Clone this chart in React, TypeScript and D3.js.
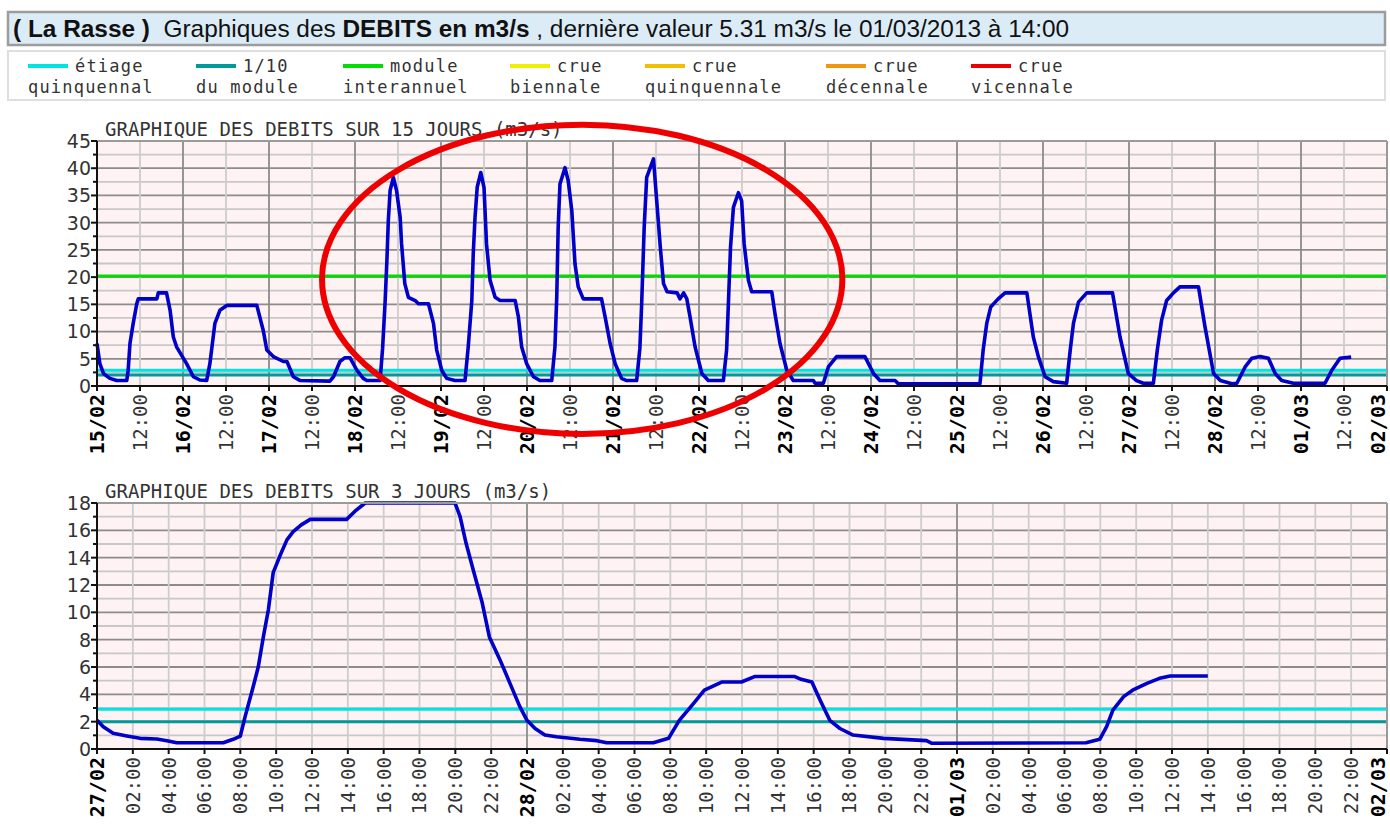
import { useEffect, useRef } from "react";
import * as d3 from "d3";

// 15 jours : heures depuis le 15/02/2013 00:00, débit m3/s
const hours15 = [
  0, 0.8, 1.8, 3.6, 5.5, 8.3, 8.7, 9.2, 10.1, 11.1, 11.5, 16.7, 17.1, 19.4, 20.4, 21.3, 22.2, 25, 26.9, 28.7,
  30.6, 31.5, 32.9, 34.3, 36.2, 44.6, 46.4, 47.4, 49.2, 52, 53, 54.8, 56.7, 65, 66, 67.8, 69.2, 70.6, 72.5, 74.3,
  75.3, 79, 79.7, 80.4, 80.9, 81.3, 81.8, 82.7, 83.6, 84.6, 85, 85.9, 86.9, 88.8, 89.7, 92.5, 93.9, 94.8, 96.2, 97.6,
  99.9, 102.7, 103.6, 104.6, 105, 105.5, 106.1, 107.1, 108, 108.7, 109.7, 111.1, 112.5, 116.7, 117.6, 118.5, 119.9, 121.8, 123.6, 126.9,
  127.8, 128.3, 128.7, 129.2, 130.6, 131.5, 132.5, 133.4, 134.3, 135.7, 140.8, 141.8, 143.2, 144.6, 146.4, 147.8, 150.6, 151.5, 152, 152.7,
  153.4, 155.3, 156.2, 157.2, 158.1, 159.1, 161.9, 162.7, 163.7, 164.6, 165.5, 166.9, 168.8, 170.6, 174.8, 175.7, 176.2, 176.8, 177.6, 179,
  179.9, 180.6, 181.8, 182.7, 188.3, 189.2, 190.6, 192.5, 194.3, 199.9, 200.4, 202.7, 204.1, 206.4, 214.3, 216.7, 218.5, 222.7, 223.6, 246.4,
  247.3, 248.3, 249.4, 251.5, 253.4, 259.5, 261.3, 262.7, 264.6, 266.9, 270.6, 271.6, 272.5, 273.9, 276.2, 283.4, 285.5, 287.8, 290.1, 292,
  294.8, 295.9, 297.1, 298.5, 300.4, 302.2, 307.4, 309.2, 311.6, 313.5, 316.7, 318.1, 320.4, 322.3, 324.6, 326.9, 328.8, 330.6, 333.9, 342.7,
  344.6, 346.9, 350,
];
const flow15 = [
  7.8, 4.1, 2.3, 1.4, 1.0, 1.0, 2.9, 7.8, 11.5, 15.1, 16.0, 16.0, 17.1, 17.1, 13.9, 9.0, 7.2, 4.1, 1.7, 1.1,
  1.0, 4.1, 11.5, 13.9, 14.8, 14.8, 10.2, 6.6, 5.4, 4.5, 4.5, 1.7, 1.0, 0.9, 1.7, 4.5, 5.2, 5.2, 2.9, 1.4,
  1.0, 1.0, 6.9, 15.4, 23, 30.4, 35.9, 38.3, 35.9, 31, 26.1, 18.8, 16.3, 15.7, 15.1, 15.1, 11.5, 6.6, 2.9, 1.4,
  1.0, 1.0, 7.2, 15.7, 24.3, 31, 36.5, 39.2, 36.5, 26.1, 19.4, 16.3, 15.7, 15.7, 12.7, 7.2, 4.1, 1.7, 1.0, 1.0,
  7.2, 16.3, 29.1, 37.1, 40.1, 37.7, 32.2, 22.4, 18.2, 16, 16, 12.7, 7.8, 4.1, 1.4, 1.0, 1.0, 6.9, 15.1, 29.1,
  38.3, 41.7, 34, 25.5, 18.8, 17.3, 17.1, 16, 17.1, 16, 12.7, 7.2, 2.3, 1.0, 1.0, 6.6, 15.1, 25.5, 32.8, 35.5,
  34, 26.1, 19.4, 17.3, 17.3, 13.3, 7.8, 2.9, 1.0, 1.0, 0.5, 0.5, 3.5, 5.4, 5.4, 2.3, 1.0, 1.0, 0.4, 0.4,
  6.6, 11.5, 14.5, 16, 17.1, 17.1, 9.0, 5.4, 1.7, 0.8, 0.5, 6.6, 11.5, 15.4, 17.1, 17.1, 9.0, 2.3, 1.0, 0.5,
  0.5, 6.6, 12.1, 15.7, 17.1, 18.2, 18.2, 10.9, 2.3, 1.0, 0.4, 0.5, 3.5, 5.1, 5.4, 5.1, 2.3, 1.0, 0.5, 0.5,
  2.9, 5.1, 5.31,
];

// 3 jours : heures depuis le 27/02/2013 00:00
const hours3 = [
  0, 0.35, 0.9, 1.66, 2.4, 3.33, 3.9, 4.45, 7.05, 7.6, 8, 8.26, 8.72, 9.0, 9.28, 9.56, 9.84, 10.2, 10.6, 10.95,
  11.4, 11.9, 13.93, 14.4, 14.96, 19.98, 20.26, 20.6, 21, 21.5, 21.9, 22.5, 23.05, 23.6, 24, 24.45, 25, 25.65, 26.95, 27.9,
  28.45, 31.05, 31.9, 32.5, 33.3, 33.9, 34.86, 35.97, 36.7, 38.95, 39.3, 39.9, 40.35, 40.9, 41.46, 42.2, 43.9, 46.3, 46.6, 55.2,
  55.97, 56.35, 56.7, 57.3, 57.8, 58.6, 59.3, 59.9, 62,
];
const flow3 = [
  2.1, 1.63, 1.15, 0.95, 0.78, 0.73, 0.61, 0.46, 0.46, 0.71, 0.95, 2.37, 4.56, 6.0, 8.2, 10.2, 12.9, 14.1, 15.3, 15.9,
  16.4, 16.8, 16.8, 17.4, 18, 18, 17, 15.05, 13.1, 10.7, 8.2, 6.5, 4.8, 3.1, 2.1, 1.5, 1.02, 0.9, 0.71, 0.61,
  0.46, 0.46, 0.78, 2.1, 3.34, 4.3, 4.9, 4.9, 5.3, 5.3, 5.1, 4.9, 3.6, 2.1, 1.5, 1.02, 0.78, 0.61, 0.42, 0.46,
  0.71, 1.63, 2.85, 3.83, 4.3, 4.8, 5.17, 5.34, 5.34,
];

// seuils (m3/s)
const thresholdNames = ["etiage", "dixieme", "module"];
const thresholdValues = [2.9, 2.0, 20.2];

const legendTop = ["étiage", "1/10", "module", "crue", "crue", "crue", "crue"];
const legendBottom = ["quinquennal", "du module", "interannuel", "biennale", "quinquennale", "décennale", "vicennale"];

const COLORS = ["#00e4e4", "#009a9a", "#00dd00", "#f2ee00", "#f0c000", "#f0960f", "#ee0000"];
const MONO = "'DejaVu Sans Mono', monospace";

function panel(svg: any, o: any) {
  const L = 97, R = 1387;
  const end = d3.timeHour.offset(o.start, o.days * 24);
  const x = d3.scaleTime().domain([o.start, end]).range([L, R]);
  const y = d3.scaleLinear().domain([0, o.yMax]).range([o.bottom, o.top]);
  const g = svg.append("g");
  const isMajor = (d: number) => Math.abs(d / o.yMajor - Math.round(d / o.yMajor)) < 1e-6;

  g.append("rect").attr("x", L).attr("y", o.top).attr("width", R - L).attr("height", o.bottom - o.top).attr("fill", "#fff2f2");

  // grille horizontale
  const hVals = d3.range(o.yMinor, o.yMax + 1e-6, o.yMinor);
  g.selectAll(".hg").data(hVals).join("line")
    .attr("x1", L).attr("x2", R)
    .attr("y1", (d: number) => y(d)).attr("y2", (d: number) => y(d))
    .attr("stroke", (d: number) => (isMajor(d) ? "#8c8c8c" : "#c8c8c8"))
    .attr("stroke-width", 1.8);

  // grille verticale
  const ticks = d3.range(0, o.days * 24 + 1, o.tickHours).map((h: number) => d3.timeHour.offset(o.start, h));
  g.selectAll(".vg").data(ticks.slice(1, -1)).join("line")
    .attr("x1", (d: Date) => x(d)).attr("x2", (d: Date) => x(d))
    .attr("y1", o.top).attr("y2", o.bottom)
    .attr("stroke", (d: Date) => (d.getHours() === 0 ? "#8c8c8c" : "#cdcdcd"))
    .attr("stroke-width", 1.8);

  // seuils
  const thr = thresholdValues.map((v, i) => ({ v, c: COLORS[i], n: thresholdNames[i] })).filter((t) => t.v <= o.yMax);
  g.selectAll(".th").data(thr).join("line")
    .attr("x1", L).attr("x2", R)
    .attr("y1", (d: any) => y(d.v)).attr("y2", (d: any) => y(d.v))
    .attr("stroke", (d: any) => d.c).attr("stroke-width", 3);

  // débit
  const pts = o.hours.map((h: number, i: number) => [d3.timeMinute.offset(o.start, Math.round(h * 60)), o.flow[i]]);
  g.append("path").datum(pts)
    .attr("d", d3.line<any>().x((d) => x(d[0])).y((d) => y(d[1])))
    .attr("fill", "none").attr("stroke", "#0000c8").attr("stroke-width", 3.6).attr("stroke-linejoin", "round");

  // cadre
  g.append("line").attr("x1", L).attr("x2", R).attr("y1", o.top).attr("y2", o.top).attr("stroke", "#9a9a9a").attr("stroke-width", 2);
  g.append("line").attr("x1", R).attr("x2", R).attr("y1", o.top).attr("y2", o.bottom).attr("stroke", "#9a9a9a").attr("stroke-width", 2);
  g.append("line").attr("x1", L).attr("x2", R).attr("y1", o.bottom).attr("y2", o.bottom).attr("stroke", "#111").attr("stroke-width", 2);
  g.append("line").attr("x1", L).attr("x2", L).attr("y1", o.top).attr("y2", o.bottom + 5).attr("stroke", "#111").attr("stroke-width", 2);

  // graduations y
  const yt = d3.range(0, o.yMax + 1e-6, o.yTick);
  g.selectAll(".yt").data(yt).join("line")
    .attr("x1", (d: number) => (isMajor(d) ? L - 6 : L - 4)).attr("x2", L)
    .attr("y1", (d: number) => y(d)).attr("y2", (d: number) => y(d))
    .attr("stroke", "#111").attr("stroke-width", 2);
  g.selectAll(".yl").data(d3.range(0, o.yMax + 1e-6, o.yMajor)).join("text")
    .attr("x", L - 6).attr("y", (d: number) => y(d)).attr("dy", "0.36em")
    .attr("text-anchor", "end").attr("fill", "#333")
    .style("font-family", "'DejaVu Sans', sans-serif").style("font-size", "19px")
    .text((d: number) => d);

  // graduations x
  g.selectAll(".xt").data(ticks).join("line")
    .attr("x1", (d: Date) => x(d)).attr("x2", (d: Date) => x(d))
    .attr("y1", o.bottom).attr("y2", o.bottom + 5)
    .attr("stroke", "#111").attr("stroke-width", 2);
  const fDay = d3.timeFormat("%d/%m"), fHour = d3.timeFormat("%H:%M");
  g.selectAll(".xl").data(ticks).join("text")
    .attr("transform", (d: Date) => `translate(${Math.min(x(d), R - 9)},${o.bottom + 8}) rotate(-90)`)
    .attr("dy", "0.36em").attr("text-anchor", "end")
    .attr("fill", (d: Date) => (d.getHours() === 0 ? "#000" : "#333"))
    .style("font-family", MONO)
    .style("font-size", (d: Date) => (d.getHours() === 0 ? "20px" : "19px"))
    .style("font-weight", (d: Date) => (d.getHours() === 0 ? "bold" : "normal"))
    .text((d: Date) => (d.getHours() === 0 ? fDay(d) : fHour(d)));

  // titre
  g.append("text").attr("x", L + 8).attr("y", o.top - 5)
    .attr("fill", "#333").style("font-family", MONO).style("font-size", "19px")
    .text(o.title);

  return { x, y, g };
}

export default function App() {
  const ref = useRef<SVGSVGElement>(null);

  useEffect(() => {
    const el = ref.current;
    if (!el) return;
    const svg = d3.select(el);
    svg.selectAll("*").remove();

    // bandeau
    svg.append("rect").attr("x", 8).attr("y", 12).attr("width", 1377).attr("height", 33)
      .attr("fill", "#dcecf7").attr("stroke", "#9c9c9c").attr("stroke-width", 2.5);
    const head = svg.append("text").attr("x", 13).attr("y", 37)
      .style("font-family", "'Liberation Sans', Arial, sans-serif").style("font-size", "24.4px").attr("fill", "#111");
    head.append("tspan").style("font-weight", "bold").text("( La Rasse )");
    head.append("tspan").text("\u00a0 Graphiques des ");
    head.append("tspan").style("font-weight", "bold").text("DEBITS en m3/s");
    head.append("tspan").text(" , dernière valeur 5.31 m3/s le 01/03/2013 à 14:00");

    // légende
    svg.append("rect").attr("x", 8).attr("y", 51).attr("width", 1377).attr("height", 49)
      .attr("fill", "#fff").attr("stroke", "#dedede").attr("stroke-width", 2);
    const lefts = [28, 196, 343, 510, 645, 826, 971];
    legendTop.forEach((t, i) => {
      const x0 = lefts[i];
      svg.append("line").attr("x1", x0).attr("x2", x0 + 40).attr("y1", 66).attr("y2", 66)
        .attr("stroke", COLORS[i]).attr("stroke-width", 4);
      svg.append("text").attr("x", x0 + 47).attr("y", 72).attr("fill", "#333")
        .style("font-family", MONO).style("font-size", "17px").style("letter-spacing", "1.2px").text(t);
      svg.append("text").attr("x", x0).attr("y", 93).attr("fill", "#333")
        .style("font-family", MONO).style("font-size", "17px").style("letter-spacing", "1.2px").text(legendBottom[i]);
    });

    const top = panel(svg, {
      top: 141, bottom: 386, start: new Date(2013, 1, 15), days: 15, tickHours: 12,
      yMax: 45, yMajor: 5, yMinor: 2.5, yTick: 2.5, hours: hours15, flow: flow15,
      title: "GRAPHIQUE DES DEBITS SUR 15 JOURS (m3/s)",
    });
    panel(svg, {
      top: 503, bottom: 749, start: new Date(2013, 1, 27), days: 3, tickHours: 2,
      yMax: 18, yMajor: 2, yMinor: 1, yTick: 1, hours: hours3, flow: flow3,
      title: "GRAPHIQUE DES DEBITS SUR 3 JOURS (m3/s)",
    });

    // ellipse rouge autour des pointes
    const s0 = new Date(2013, 1, 15);
    const cx = top.x(d3.timeMinute.offset(s0, 135.4 * 60));
    const rx = top.x(d3.timeMinute.offset(s0, 208 * 60)) - cx;
    const cy = top.y(19.6);
    const ry = top.y(19.6) - top.y(48);
    svg.append("ellipse").attr("cx", cx).attr("cy", cy).attr("rx", rx).attr("ry", ry)
      .attr("fill", "none").attr("stroke", "#ee0000").attr("stroke-width", 6);
  }, []);

  return (
    <svg ref={ref} width={1390} height={827}
      style={{ position: "absolute", left: 0, top: 0, background: "#fff" }} />
  );
}
